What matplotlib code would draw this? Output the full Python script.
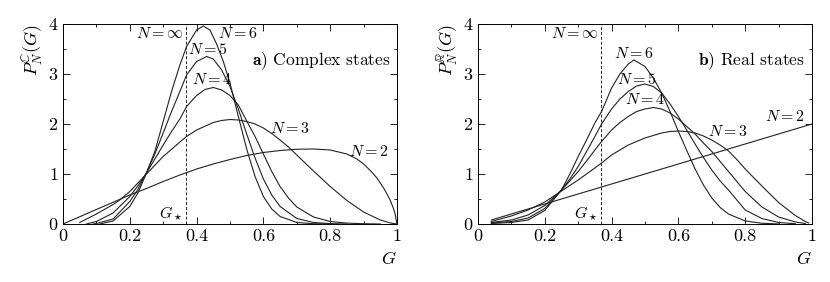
import numpy as np
import matplotlib
matplotlib.use("Agg")
import matplotlib.pyplot as plt
from matplotlib.ticker import MultipleLocator

plt.rcParams['font.family'] = 'serif'
plt.rcParams['font.serif'] = ['cmr10']
plt.rcParams['mathtext.fontset'] = 'cm'
plt.rcParams['axes.formatter.use_mathtext'] = True

# G* = 1/e, the N = infinity limit
g_star = 0.368

# ---- a) complex states ----
cx2 = [0, 0.05, 0.1, 0.15, 0.2, 0.25, 0.3, 0.35, 0.4, 0.45, 0.5, 0.55, 0.6, 0.65, 0.7,
       0.75, 0.8, 0.85, 0.88, 0.9, 0.92, 0.94, 0.96, 0.97, 0.98, 0.99, 0.995, 1.0]
cy2 = [0, 0.145, 0.29, 0.435, 0.58, 0.71, 0.85, 0.98, 1.1, 1.2, 1.29, 1.37, 1.43, 1.47, 1.495,
       1.5, 1.48, 1.4, 1.3, 1.2, 1.07, 0.92, 0.72, 0.6, 0.47, 0.3, 0.18, 0.0]

cx3 = [0.05, 0.1, 0.15, 0.17, 0.2, 0.25, 0.3, 0.35, 0.37, 0.4, 0.45, 0.475, 0.5, 0.525, 0.55,
       0.575, 0.6, 0.625, 0.65, 0.675, 0.7, 0.75, 0.8, 0.85, 0.9, 0.95, 0.98, 1.0]
cy3 = [0.03, 0.2, 0.39, 0.48, 0.65, 1.0, 1.35, 1.64, 1.75, 1.88, 2.03, 2.07, 2.09, 2.08, 2.05,
       2.0, 1.92, 1.81, 1.68, 1.54, 1.38, 1.06, 0.75, 0.47, 0.24, 0.08, 0.02, 0.0]

cx4 = [0.07, 0.1, 0.15, 0.2, 0.225, 0.25, 0.275, 0.3, 0.325, 0.35, 0.37, 0.4, 0.425, 0.45,
       0.475, 0.5, 0.525, 0.55, 0.575, 0.6, 0.625, 0.65, 0.675, 0.7, 0.75, 0.8, 0.85, 0.9, 0.95]
cy4 = [0.0, 0.05, 0.22, 0.55, 0.77, 1.02, 1.3, 1.58, 1.85, 2.1, 2.35, 2.57, 2.69, 2.73,
       2.68, 2.57, 2.38, 2.06, 1.75, 1.4, 1.05, 0.75, 0.52, 0.34, 0.14, 0.05, 0.018, 0.005, 0.0]

cx5 = [0.09, 0.1, 0.15, 0.2, 0.225, 0.25, 0.275, 0.3, 0.325, 0.35, 0.37, 0.4, 0.43, 0.45, 0.475,
       0.5, 0.525, 0.55, 0.575, 0.6, 0.625, 0.65, 0.7, 0.75, 0.8, 0.85]
cy5 = [0.0, 0.01, 0.1, 0.45, 0.7, 1.03, 1.4, 1.82, 2.25, 2.65, 2.98, 3.25, 3.35, 3.3, 3.08,
       2.75, 2.3, 1.8, 1.32, 0.9, 0.58, 0.35, 0.11, 0.03, 0.008, 0.0]

cx6 = [0.11, 0.15, 0.2, 0.225, 0.25, 0.275, 0.3, 0.325, 0.35, 0.37, 0.4, 0.42, 0.44, 0.46,
       0.48, 0.5, 0.525, 0.55, 0.575, 0.6, 0.625, 0.65, 0.7, 0.75, 0.8]
cy6 = [0.0, 0.06, 0.35, 0.63, 1.02, 1.45, 2.05, 2.65, 3.18, 3.55, 3.88, 3.96, 3.88, 3.6,
       3.25, 2.82, 2.15, 1.5, 0.95, 0.55, 0.3, 0.15, 0.03, 0.005, 0.0]

# ---- b) real states ----
rx2 = [0.04, 0.2, 0.4, 0.6, 0.8, 1.0]
ry2 = [0.08, 0.4, 0.8, 1.2, 1.6, 2.0]

rx3 = [0.04, 0.1, 0.15, 0.2, 0.25, 0.3, 0.35, 0.37, 0.4, 0.45, 0.5, 0.55, 0.575, 0.6, 0.625,
       0.65, 0.675, 0.7, 0.725, 0.75, 0.775, 0.8, 0.825, 0.85, 0.9, 0.95, 0.98, 0.99]
ry3 = [0.05, 0.16, 0.28, 0.44, 0.66, 0.88, 1.12, 1.22, 1.38, 1.58, 1.72, 1.82, 1.85, 1.86, 1.85,
       1.82, 1.76, 1.68, 1.58, 1.46, 1.29, 1.1, 0.93, 0.76, 0.43, 0.17, 0.05, 0.02]

rx4 = [0.04, 0.1, 0.15, 0.2, 0.25, 0.275, 0.3, 0.325, 0.35, 0.37, 0.4, 0.425, 0.45, 0.475, 0.5,
       0.525, 0.55, 0.575, 0.6, 0.625, 0.65, 0.675, 0.7, 0.725, 0.75, 0.775, 0.8, 0.85, 0.9,
       0.95, 0.98]
ry4 = [0.03, 0.08, 0.18, 0.37, 0.68, 0.86, 1.05, 1.26, 1.48, 1.65, 1.88, 2.03, 2.15, 2.25, 2.3,
       2.33, 2.3, 2.22, 2.1, 1.95, 1.8, 1.62, 1.45, 1.25, 1.05, 0.85, 0.65, 0.34, 0.14,
       0.04, 0.01]

rx5 = [0.04, 0.1, 0.15, 0.2, 0.25, 0.275, 0.3, 0.325, 0.35, 0.37, 0.4, 0.425, 0.45, 0.475, 0.5,
       0.525, 0.55, 0.575, 0.6, 0.625, 0.65, 0.675, 0.7, 0.725, 0.75, 0.8, 0.85, 0.9, 0.95]
ry5 = [0.02, 0.05, 0.12, 0.31, 0.68, 0.9, 1.15, 1.45, 1.75, 2.0, 2.3, 2.5, 2.65, 2.76, 2.8,
       2.75, 2.62, 2.4, 2.15, 1.88, 1.6, 1.33, 1.08, 0.86, 0.68, 0.28, 0.11, 0.03, 0.005]

rx6 = [0.04, 0.1, 0.15, 0.2, 0.25, 0.275, 0.3, 0.325, 0.35, 0.37, 0.4, 0.425, 0.45, 0.467,
       0.5, 0.525, 0.55, 0.575, 0.6, 0.625, 0.65, 0.675, 0.7, 0.725, 0.75, 0.8, 0.85, 0.9]
ry6 = [0.01, 0.03, 0.08, 0.27, 0.68, 1.0, 1.35, 1.68, 2.02, 2.25, 2.72, 3.0, 3.2, 3.28,
       3.15, 2.92, 2.62, 2.25, 1.85, 1.47, 1.1, 0.78, 0.52, 0.33, 0.2, 0.06, 0.015, 0.0]

complex_curves = [(cx2, cy2), (cx3, cy3), (cx4, cy4), (cx5, cy5), (cx6, cy6)]
real_curves = [(rx2, ry2), (rx3, ry3), (rx4, ry4), (rx5, ry5), (rx6, ry6)]

# label text and where it sits (G, P)
complex_labels = [(r'$N{=}2$', 0.855, 1.45), (r'$N{=}3$', 0.62, 1.91), (r'$N{=}4$', 0.385, 2.88),
                  (r'$N{=}5$', 0.375, 3.48), (r'$N{=}6$', 0.465, 3.8)]
real_labels = [(r'$N{=}2$', 0.86, 2.15), (r'$N{=}3$', 0.69, 1.85), (r'$N{=}4$', 0.44, 2.48),
               (r'$N{=}5$', 0.415, 2.88), (r'$N{=}6$', 0.407, 3.41)]

fig = plt.figure(figsize=(8.3, 2.82), dpi=100)
ax1 = fig.add_axes([0.0759, 0.2057, 0.4024, 0.7092])
ax2 = fig.add_axes([0.5759, 0.2057, 0.4024, 0.7092])


def draw_panel(ax, curves, labels, ylab, title_bold, title):
    for gx, py in curves:
        ax.plot(gx, py, color='#222222', lw=0.8)
    ax.plot([g_star, g_star], [0, 4], color='#222222', lw=0.7, ls=(0, (3, 2)))
    for txt, gx, py in labels:
        ax.text(gx, py, txt, fontsize=11.5, ha='left', va='center')
    ax.text(g_star - 0.005, 3.8, r'$N{=}\infty$', fontsize=11.5, ha='right', va='center')
    ax.text(g_star - 0.01, 0.21, r'$G_\star$', fontsize=11.5, ha='right', va='center')
    ax.text(0.98, 3.25, r'$\mathbf{' + title_bold + r')}$ ' + title, fontsize=12.5,
            ha='right', va='center')
    ax.set_xlim(0, 1)
    ax.set_ylim(0, 4)
    ax.xaxis.set_major_locator(MultipleLocator(0.2))
    ax.xaxis.set_minor_locator(MultipleLocator(0.1))
    ax.yaxis.set_major_locator(MultipleLocator(1))
    ax.yaxis.set_minor_locator(MultipleLocator(0.5))
    ax.xaxis.set_major_formatter(plt.FuncFormatter(lambda v, p: '%g' % v))
    ax.tick_params(which='both', direction='in', top=True, right=True, labelsize=13, width=0.6)
    ax.tick_params(which='major', length=5)
    ax.tick_params(which='minor', length=2.5)
    for s in ax.spines.values():
        s.set_linewidth(0.7)
    ax.set_xlabel(r'$G$', fontsize=13, loc='right')
    ax.set_ylabel(ylab, fontsize=13, loc='top', labelpad=2)


draw_panel(ax1, complex_curves, complex_labels, r'$P_N^{\mathbb{C}}(G)$', 'a', 'Complex states')
draw_panel(ax2, real_curves, real_labels, r'$P_N^{\mathbb{R}}(G)$', 'b', 'Real states')

fig.savefig('out.png', dpi=100)
